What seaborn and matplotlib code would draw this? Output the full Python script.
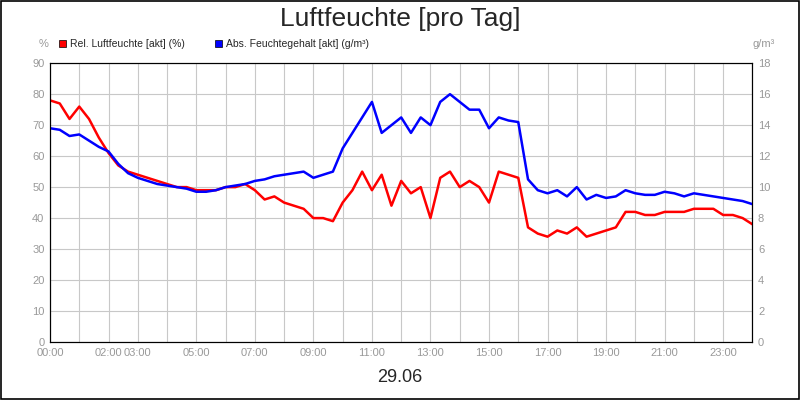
import numpy as np
import pandas as pd
import matplotlib.pyplot as plt
import seaborn as sns
from matplotlib.patches import Rectangle

# 20-minute steps from 00:00 to 24:00
hours = [i / 3 for i in range(73)]
rel_humidity = [78, 77, 72, 76, 72, 66, 61, 57, 55, 54,
                53, 52, 51, 50, 50, 49, 49, 49, 50, 50,
                51, 49, 46, 47, 45, 44, 43, 40, 40, 39,
                45, 49, 55, 49, 54, 44, 52, 48, 50, 40,
                53, 55, 50, 52, 50, 45, 55, 54, 53, 37,
                35, 34, 36, 35, 37, 34, 35, 36, 37, 42,
                42, 41, 41, 42, 42, 42, 43, 43, 43, 41,
                41, 40, 38]
abs_humidity = [13.8, 13.7, 13.3, 13.4, 13.0, 12.6, 12.3, 11.5, 10.9, 10.6,
                10.4, 10.2, 10.1, 10.0, 9.9, 9.7, 9.7, 9.8, 10.0, 10.1,
                10.2, 10.4, 10.5, 10.7, 10.8, 10.9, 11.0, 10.6, 10.8, 11.0,
                12.5, 13.5, 14.5, 15.5, 13.5, 14.0, 14.5, 13.5, 14.5, 14.0,
                15.5, 16.0, 15.5, 15.0, 15.0, 13.8, 14.5, 14.3, 14.2, 10.5,
                9.8, 9.6, 9.8, 9.4, 10.0, 9.2, 9.5, 9.3, 9.4, 9.8,
                9.6, 9.5, 9.5, 9.7, 9.6, 9.4, 9.6, 9.5, 9.4, 9.3,
                9.2, 9.1, 8.9]
tick_hours = [0, 2, 3, 5, 7, 9, 11, 13, 15, 17, 19, 21, 23]
tick_labels = ['00:00', '02:00', '03:00', '05:00', '07:00', '09:00', '11:00',
               '13:00', '15:00', '17:00', '19:00', '21:00', '23:00']

df = pd.DataFrame({'h': hours, 'rel': rel_humidity, 'abs': abs_humidity})

sns.set_style('white')
plt.rcParams['font.family'] = ['Liberation Sans', 'DejaVu Sans']
fig = plt.figure(figsize=(8, 4), dpi=100)
ax = fig.add_axes([0.0625, 0.145, 0.878, 0.697])
ax2 = ax.twinx()

sns.lineplot(data=df, x='h', y='rel', ax=ax, color='#ff0000', lw=1.8)
sns.lineplot(data=df, x='h', y='abs', ax=ax2, color='#0000ff', lw=1.8)

ax.set_xlim(0, 24)
ax.set_ylim(0, 90)
ax2.set_ylim(0, 18)
ax.set_yticks(range(0, 91, 10))
ax2.set_yticks(range(0, 19, 2))
ax.set_xticks(range(0, 25))
ax.set_xticklabels([tick_labels[tick_hours.index(h)] if h in tick_hours else '' for h in range(25)])
ax.grid(True, color='#c8c8c8', lw=0.8)
ax.set_axisbelow(True)
for a in (ax, ax2):
    a.set_xlabel('')
    a.set_ylabel('')
    a.tick_params(labelsize=8, colors='#999999', length=0, pad=4)
    for s in a.spines.values():
        s.set_color('black')
        s.set_linewidth(0.8)

fig.text(0.5, 0.953, 'Luftfeuchte [pro Tag]', ha='center', va='center', fontsize=19)
fig.text(0.5, 0.055, '29.06', ha='center', va='center', fontsize=13)
fig.text(0.055, 0.882, '%', ha='center', fontsize=8, color='#999999')
fig.text(0.955, 0.882, 'g/m³', ha='center', fontsize=8, color='#999999')
fig.patches.append(Rectangle((0.074, 0.883), 0.009, 0.018, transform=fig.transFigure,
                             facecolor='#ff0000', edgecolor='black', lw=0.5))
fig.text(0.088, 0.882, 'Rel. Luftfeuchte [akt] (%)', fontsize=7.5)
fig.patches.append(Rectangle((0.269, 0.883), 0.009, 0.018, transform=fig.transFigure,
                             facecolor='#0000ff', edgecolor='black', lw=0.5))
fig.text(0.283, 0.882, 'Abs. Feuchtegehalt [akt] (g/m³)', fontsize=7.5)
fig.patches.append(Rectangle((0.001, 0.002), 0.998, 0.996, transform=fig.transFigure,
                             facecolor='none', edgecolor='black', lw=1.2))

fig.savefig('out.png', dpi=100)
